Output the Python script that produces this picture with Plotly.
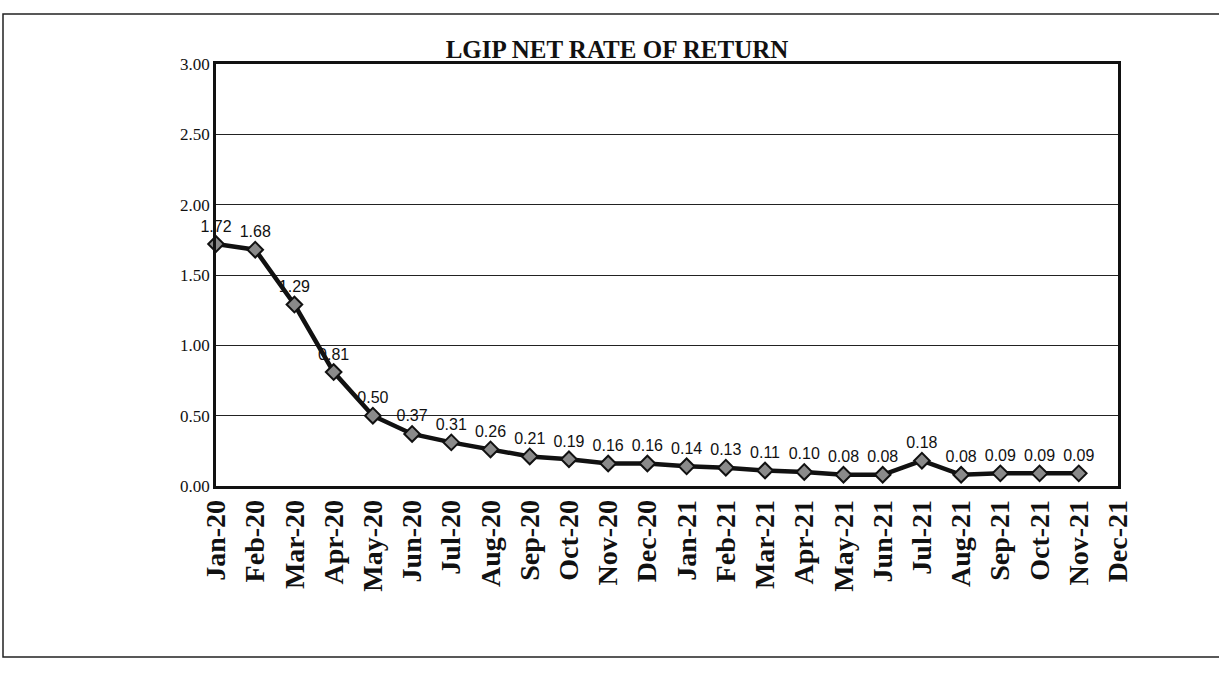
import plotly.graph_objects as go

months = ["Jan-20", "Feb-20", "Mar-20", "Apr-20", "May-20", "Jun-20", "Jul-20", "Aug-20",
          "Sep-20", "Oct-20", "Nov-20", "Dec-20", "Jan-21", "Feb-21", "Mar-21", "Apr-21",
          "May-21", "Jun-21", "Jul-21", "Aug-21", "Sep-21", "Oct-21", "Nov-21", "Dec-21"]
net_rate = [1.72, 1.68, 1.29, 0.81, 0.50, 0.37, 0.31, 0.26, 0.21, 0.19, 0.16, 0.16,
            0.14, 0.13, 0.11, 0.10, 0.08, 0.08, 0.18, 0.08, 0.09, 0.09, 0.09]
y_ticks = [0.0, 0.5, 1.0, 1.5, 2.0, 2.5, 3.0]

W, H = 1219, 675
L, R, T, B = 216, 101, 64, 189
pw, ph = W - L - R, H - T - B

def px(x):
    return (x - L) / pw

def py(y):
    return (H - B - y) / ph

fig = go.Figure()
fig.add_trace(go.Scatter(
    x=months[:len(net_rate)], y=net_rate,
    mode="lines+markers+text",
    line=dict(color="#111111", width=4.5),
    marker=dict(symbol="diamond", size=12, color="#8a8a8a",
                line=dict(color="#111111", width=2)),
    texttemplate="%{y:.2f}",
    textposition="top center",
    textfont=dict(family="Liberation Sans, Arial, sans-serif", size=16, color="#111111"),
    cliponaxis=False,
    showlegend=False,
))

fig.update_layout(
    width=W, height=H,
    margin=dict(l=L, r=R, t=T, b=B),
    paper_bgcolor="white", plot_bgcolor="white",
    title=dict(text="<b>LGIP NET RATE OF RETURN</b>", x=617 / W, xanchor="center",
               y=1 - 49 / H, yanchor="middle",
               font=dict(family="Liberation Serif, Times New Roman, serif", size=25, color="#111111")),
    xaxis=dict(type="category", categoryorder="array", categoryarray=months,
               range=[0, len(months) - 1], tickangle=-90,
               showgrid=False, showline=True, linecolor="#111111", linewidth=2.5, mirror=True,
               ticks="", ticklen=0,
               tickfont=dict(family="Liberation Serif, Times New Roman, serif", size=28, color="#111111"),
               tickprefix="<b>", ticksuffix="</b>"),
    yaxis=dict(range=[0, 3], tickvals=y_ticks, tickformat=".2f",
               showgrid=True, gridcolor="#222222", gridwidth=1.2,
               showline=True, linecolor="#111111", linewidth=2.5, mirror=True,
               zeroline=False, ticks="", ticklen=0,
               tickfont=dict(family="Liberation Serif, Times New Roman, serif", size=17, color="#111111")),
    shapes=[
        dict(type="rect", xref="paper", yref="paper",
             x0=px(3), x1=px(1230), y0=py(657), y1=py(14),
             line=dict(color="#222222", width=1.5), fillcolor="rgba(0,0,0,0)", layer="below"),
    ],
)

fig.write_html("out.html", config={"displayModeBar": False},
               post_script="document.body.style.margin='0';document.body.style.overflow='hidden';")
